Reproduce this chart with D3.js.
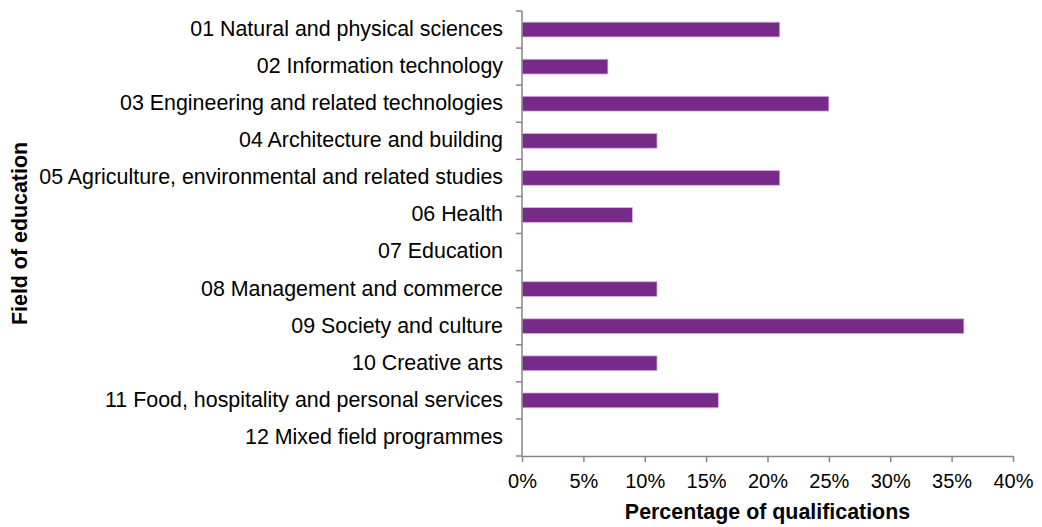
<!DOCTYPE html>
<meta charset="utf-8">
<head>
    <title>Field of education</title>
    <style>
        body { margin: 0; background: #fff; }
        svg text { font-family: "Liberation Sans", Arial, sans-serif; fill: #000; }
    </style>
</head>
<body>
<svg width="1042" height="527"></svg>
<script src="https://d3js.org/d3.v7.min.js"></script>
<script>

    //chart data
    var categories = [
        "01 Natural and physical sciences",
        "02 Information technology",
        "03 Engineering and related technologies",
        "04 Architecture and building",
        "05 Agriculture, environmental and related studies",
        "06 Health",
        "07 Education",
        "08 Management and commerce",
        "09 Society and culture",
        "10 Creative arts",
        "11 Food, hospitality and personal services",
        "12 Mixed field programmes"
    ];
    var percentages = [21, 7, 25, 11, 21, 9, 0, 11, 36, 11, 16, 0];
    var xTicks = [0, 5, 10, 15, 20, 25, 30, 35, 40];

    var svg = d3.select("svg");
    var plotLeft = 522, plotRight = 1013, plotTop = 11, plotBottom = 456;

    var x = d3.scaleLinear().domain([0, 40]).range([plotLeft, plotRight]);
    var y = d3.scaleBand().domain(categories).range([plotTop, plotBottom]).paddingInner(0.6).paddingOuter(0.3);

    //bars
    svg.append("g")
            .selectAll("rect")
            .data(categories)
            .enter().append("rect")
            .attr("x", x(0))
            .attr("y", function(d) { return y(d); })
            .attr("width", function(d, i) { return x(percentages[i]) - x(0); })
            .attr("height", y.bandwidth())
            .attr("fill", "#772A8A")
            .attr("stroke", function(d, i) { return percentages[i] > 0 ? "#D9B8E0" : "none"; })
            .attr("stroke-width", 0.8);

    //x axis
    var xAxis = svg.append("g")
            .attr("transform", "translate(0," + plotBottom + ")")
            .call(d3.axisBottom(x).tickValues(xTicks).tickSize(6).tickSizeOuter(0)
                    .tickFormat(function(d) { return d + "%"; }));
    xAxis.selectAll("text")
            .style("font-size", "20px")
            .style("font-family", "'Liberation Sans', Arial, sans-serif")
            .attr("dy", "1.15em");
    xAxis.selectAll("line, path").attr("stroke", "#868686").attr("stroke-width", 1.5);

    //y axis, ticks at band boundaries
    var yLine = svg.append("g");
    yLine.append("line")
            .attr("x1", plotLeft).attr("x2", plotLeft)
            .attr("y1", plotTop).attr("y2", plotBottom)
            .attr("stroke", "#868686").attr("stroke-width", 1.5);
    var step = (plotBottom - plotTop) / categories.length;
    yLine.selectAll("line.tick")
            .data(d3.range(categories.length + 1))
            .enter().append("line")
            .attr("class", "tick")
            .attr("x1", plotLeft - 6).attr("x2", plotLeft)
            .attr("y1", function(d) { return plotTop + d * step; })
            .attr("y2", function(d) { return plotTop + d * step; })
            .attr("stroke", "#868686").attr("stroke-width", 1.5);
    yLine.selectAll("text")
            .data(categories)
            .enter().append("text")
            .attr("x", 503)
            .attr("y", function(d) { return y(d) + y.bandwidth() / 2; })
            .attr("dy", "0.3em")
            .attr("text-anchor", "end")
            .style("font-size", "21.4px")
            .text(function(d) { return d; });

    //axis titles
    svg.append("text")
            .attr("x", (plotLeft + plotRight) / 2)
            .attr("y", 519)
            .attr("text-anchor", "middle")
            .style("font-size", "21.4px")
            .attr("font-weight", "bold")
            .text("Percentage of qualifications");

    svg.append("text")
            .attr("transform", "translate(27," + ((plotTop + plotBottom) / 2) + ") rotate(-90)")
            .attr("text-anchor", "middle")
            .style("font-size", "21.4px")
            .attr("font-weight", "bold")
            .text("Field of education");
</script>
</body>
